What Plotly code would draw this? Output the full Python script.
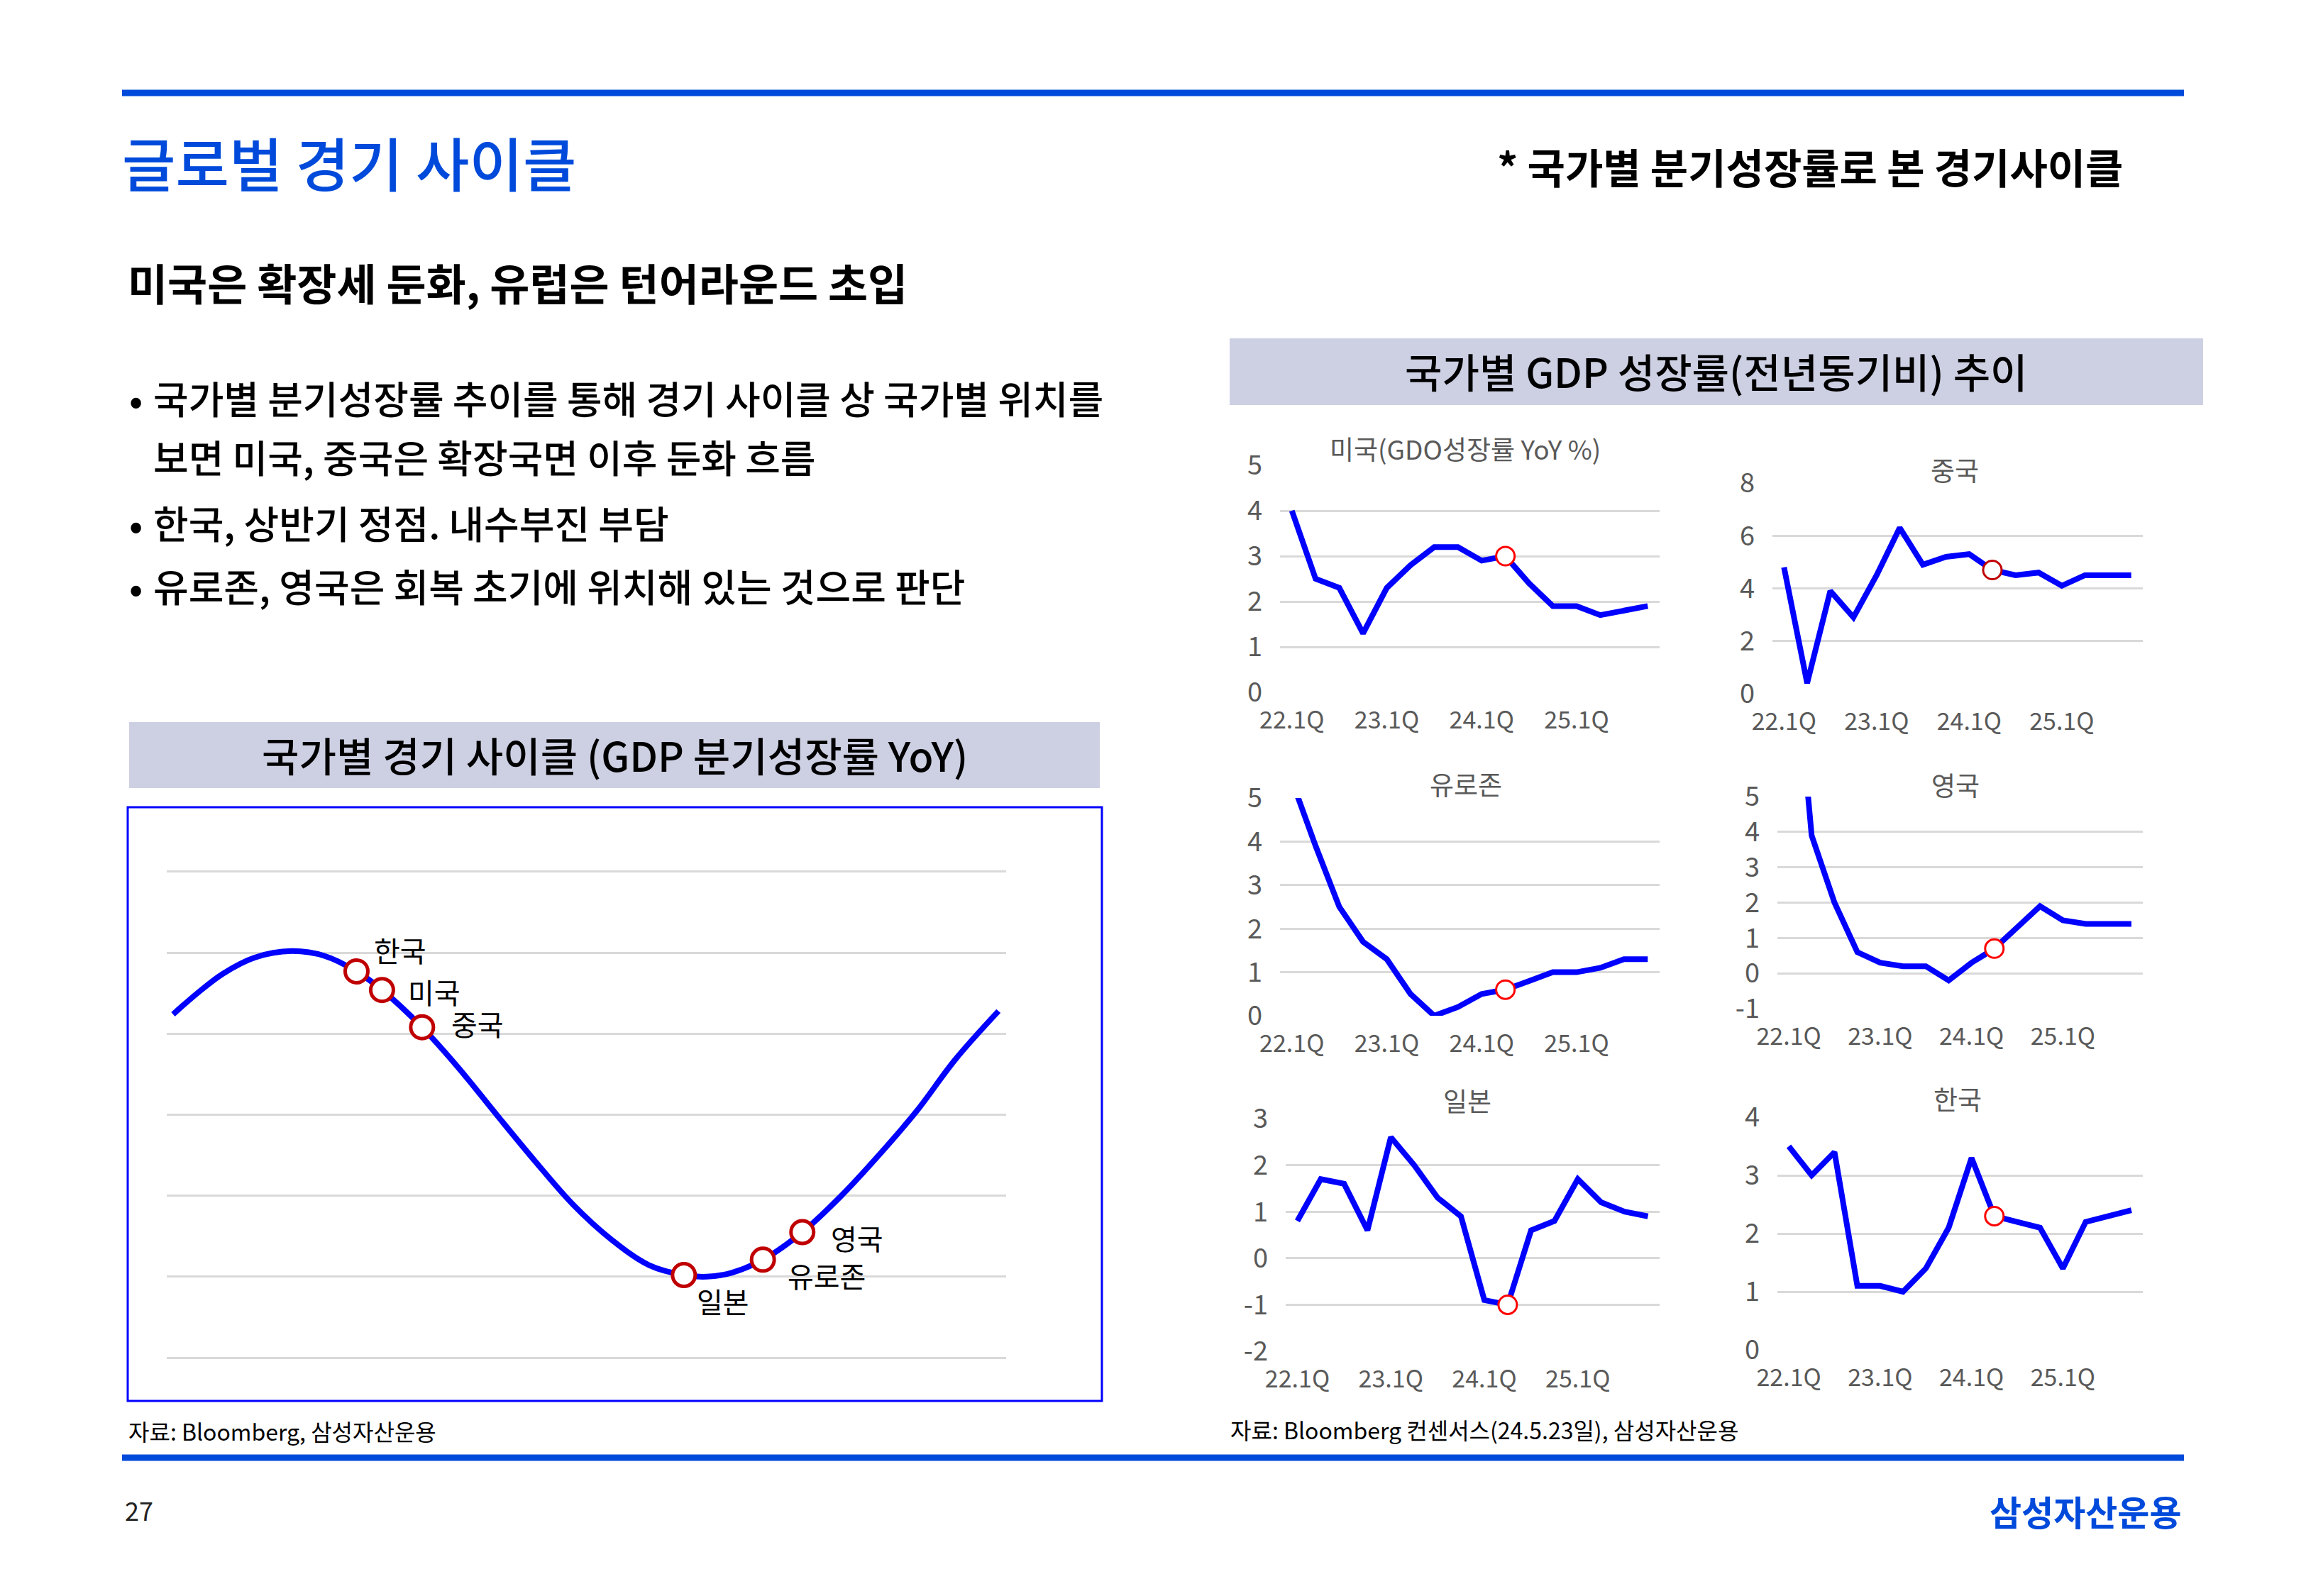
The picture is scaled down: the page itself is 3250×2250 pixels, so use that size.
import plotly.graph_objects as go

W, H = 3250, 2250
FONT = "Noto Sans CJK KR"
BLUE = "#004ADB"

# ---------------- data ----------------
quarters = ["22.1Q", "22.2Q", "22.3Q", "22.4Q", "23.1Q", "23.2Q", "23.3Q", "23.4Q",
            "24.1Q", "24.2Q", "24.3Q", "24.4Q", "25.1Q", "25.2Q", "25.3Q", "25.4Q"]
tick_quarters = ["22.1Q", "23.1Q", "24.1Q", "25.1Q"]
highlight_quarter = "24.2Q"

us_gdp = [4.0, 2.5, 2.3, 1.3, 2.3, 2.8, 3.2, 3.2, 2.9, 3.0, 2.4, 1.9, 1.9, 1.7, 1.8, 1.9]
china_gdp = [4.8, 0.4, 3.9, 2.9, 4.5, 6.3, 4.9, 5.2, 5.3, 4.7, 4.5, 4.6, 4.1, 4.5, 4.5, 4.5]
eurozone_gdp = [5.4, 3.9, 2.5, 1.7, 1.3, 0.5, 0.0, 0.2, 0.5, 0.6, 0.8, 1.0, 1.0, 1.1, 1.3, 1.3]
uk_gdp = [11.0, 3.9, 2.0, 0.6, 0.3, 0.2, 0.2, -0.2, 0.3, 0.7, 1.3, 1.9, 1.5, 1.4, 1.4, 1.4]
japan_gdp = [0.8, 1.7, 1.6, 0.6, 2.6, 2.0, 1.3, 0.9, -0.9, -1.0, 0.6, 0.8, 1.7, 1.2, 1.0, 0.9]
korea_gdp = [3.5, 3.0, 3.4, 1.1, 1.1, 1.0, 1.4, 2.1, 3.3, 2.3, 2.2, 2.1, 1.4, 2.2, 2.3, 2.4]

# y tick values / labels of the small charts
us_ticks = [0, 1, 2, 3, 4, 5]
china_ticks = [0, 2, 4, 6, 8]
eurozone_ticks = [0, 1, 2, 3, 4, 5]
uk_ticks = [-1, 0, 1, 2, 3, 4, 5]
japan_ticks = [-2, -1, 0, 1, 2, 3]
korea_ticks = [0, 1, 2, 3, 4]

# conceptual business-cycle curve
cycle_x = [0.76, 3.64, 6.68, 10.47, 14.87, 18.82, 22.61, 25.65, 30.42, 34.75, 39.30, 43.85,
           48.41, 52.96, 57.51, 61.61, 64.34, 67.37, 71.02, 75.72, 80.27, 84.83, 89.38,
           93.93, 99.09]
cycle_y = [4.24, 4.50, 4.74, 4.94, 5.02, 4.96, 4.77, 4.54, 4.08, 3.58, 3.00, 2.43,
           1.89, 1.46, 1.14, 1.02, 1.00, 1.05, 1.21, 1.55, 1.99, 2.50, 3.05,
           3.68, 4.28]
cycle_grid = [0, 1, 2, 3, 4, 5, 6]
cycle_countries = ["한국", "미국", "중국", "일본", "유로존", "영국"]
cycle_country_x = [22.61, 25.65, 30.42, 61.61, 71.02, 75.72]
cycle_country_y = [4.77, 4.54, 4.08, 1.02, 1.21, 1.55]

# ---------------- helpers ----------------
def fx(px):
    return px / W


def fy(py):
    return 1 - py / H


fig = go.Figure()
annotations = []
shapes = []

# ---------------- big cycle chart ----------------
fig.add_trace(go.Scatter(x=cycle_x, y=cycle_y, mode="lines",
                         line=dict(color="#0000FF", width=8, shape="spline", smoothing=1.0),
                         xaxis="x", yaxis="y", hoverinfo="skip", showlegend=False))
fig.add_trace(go.Scatter(x=cycle_country_x, y=cycle_country_y, mode="markers",
                         marker=dict(size=32, color="white", line=dict(color="#C00000", width=5)),
                         xaxis="x", yaxis="y", hoverinfo="skip", showlegend=False))

label_offsets = {"한국": (62, 30), "미국": (74, -2), "중국": (78, 5),
                 "일본": (55, -36), "유로존": (90, -22), "영국": (77, -8)}
for name, cx, cy in zip(cycle_countries, cycle_country_x, cycle_country_y):
    dx, dy = label_offsets[name]
    annotations.append(dict(x=cx, y=cy, xref="x", yref="y", text=name, showarrow=False,
                            xshift=dx, yshift=dy, xanchor="center", yanchor="middle",
                            font=dict(family=FONT, size=40, color="#000000")))

big_top, big_bot = 1229 - 57.1, 1914 + 57.1
layout_axes = dict(
    xaxis=dict(domain=[fx(235), fx(1418)], range=[0, 100], visible=False, anchor="y",
               automargin=False),
    yaxis=dict(domain=[fy(big_bot), fy(big_top)], range=[-0.5, 6.5],
               tickmode="array", tickvals=cycle_grid,
               showgrid=True, gridcolor="#D9D9D9", gridwidth=3, zeroline=False,
               showticklabels=False, ticks="", showline=False, anchor="x", automargin=False),
)

# ---------------- small charts ----------------
panels = [
    # title, data, yrange, ticks, (x0, x1, ytop, ybottom), title pos, marker colour
    ("미국(GDO성장률 YoY %)", us_gdp, [0, 5], us_ticks, (1804, 2339, 656, 976), (2065, 632), "#FF0000"),
    ("중국", china_gdp, [0, 8], china_ticks, (2498, 3020, 681, 978), (2755, 662), "#C00000"),
    ("유로존", eurozone_gdp, [0, 5], eurozone_ticks, (1804, 2339, 1125, 1432), (2066, 1105), "#FF0000"),
    ("영국", uk_gdp, [-1, 5], uk_ticks, (2505, 3020, 1123, 1422), (2756, 1106), "#FF0000"),
    ("일본", japan_gdp, [-2, 3], japan_ticks, (1812, 2339, 1577, 1905), (2068, 1551), "#FF0000"),
    ("한국", korea_gdp, [0, 4], korea_ticks, (2505, 3020, 1575, 1903), (2759, 1549), "#FF0000"),
]

hi = quarters.index(highlight_quarter)
for i, (title, vals, yr, yt_vals, (x0, x1, yt, yb), (tx, ty), mcol) in enumerate(panels):
    n = i + 2
    xa, ya = f"x{n}", f"y{n}"
    fig.add_trace(go.Scatter(x=quarters, y=vals, mode="lines",
                             line=dict(color="#0000FF", width=8),
                             xaxis=xa, yaxis=ya, hoverinfo="skip", showlegend=False))
    fig.add_trace(go.Scatter(x=[quarters[hi]], y=[vals[hi]], mode="markers",
                             marker=dict(size=26, color="white", line=dict(color=mcol, width=3)),
                             xaxis=xa, yaxis=ya, hoverinfo="skip", showlegend=False))
    layout_axes[f"xaxis{n}"] = dict(domain=[fx(x0), fx(x1)], type="category",
                                    categoryorder="array", categoryarray=quarters,
                                    range=[-0.5, len(quarters) - 0.5],
                                    tickmode="array", tickvals=tick_quarters, ticktext=tick_quarters,
                                    showgrid=False, zeroline=False, showline=False, ticks="",
                                    tickfont=dict(family=FONT, size=34, color="#595959"),
                                    ticklabelstandoff=16, anchor=ya, automargin=False)
    layout_axes[f"yaxis{n}"] = dict(domain=[fy(yb), fy(yt)], range=yr,
                                    tickmode="array", tickvals=yt_vals,
                                    ticktext=[str(v) for v in yt_vals],
                                    showgrid=True, gridcolor="#D9D9D9", gridwidth=3,
                                    zeroline=False, showline=False, ticks="",
                                    tickfont=dict(family=FONT, size=38, color="#595959"),
                                    ticklabelstandoff=24, anchor=xa, automargin=False)
    annotations.append(dict(x=fx(tx), y=fy(ty), xref="paper", yref="paper", text=title,
                            showarrow=False, xanchor="center", yanchor="middle",
                            font=dict(family=FONT, size=37, color="#595959")))

# ---------------- slide decorations ----------------
shapes += [
    dict(type="line", xref="paper", yref="paper", x0=fx(172), x1=fx(3078), y0=fy(131), y1=fy(131),
         line=dict(color=BLUE, width=9)),
    dict(type="line", xref="paper", yref="paper", x0=fx(172), x1=fx(3078), y0=fy(2055), y1=fy(2055),
         line=dict(color=BLUE, width=9)),
    dict(type="rect", xref="paper", yref="paper", x0=fx(182), x1=fx(1550), y0=fy(1111), y1=fy(1018),
         fillcolor="#CDD0E3", line=dict(width=0), layer="below"),
    dict(type="rect", xref="paper", yref="paper", x0=fx(1733), x1=fx(3105), y0=fy(571), y1=fy(477),
         fillcolor="#CDD0E3", line=dict(width=0), layer="below"),
    dict(type="rect", xref="paper", yref="paper", x0=fx(180), x1=fx(1553), y0=fy(1975), y1=fy(1138),
         fillcolor="rgba(0,0,0,0)", line=dict(color="#0000FF", width=3)),
]


def text(px, py, s, size, color="#000000", weight=400, anchor="left"):
    annotations.append(dict(x=fx(px), y=fy(py), xref="paper", yref="paper", text=s,
                            showarrow=False, xanchor=anchor, yanchor="middle",
                            font=dict(family=FONT, size=size, color=color, weight=weight)))


text(170, 228, "글로벌 경기 사이클", 82, BLUE, 500)
text(2108, 234, "* 국가별 분기성장률로 본 경기사이클", 58, "#000000", 700)
text(178, 398, "미국은 확장세 둔화, 유럽은 턴어라운드 초입", 61, "#000000", 700)

bullet_lines = [
    (560, True, "국가별 분기성장률 추이를 통해 경기 사이클 상 국가별 위치를"),
    (643, False, "보면 미국, 중국은 확장국면 이후 둔화 흐름"),
    (736, True, "한국, 상반기 정점. 내수부진 부담"),
    (825, True, "유로존, 영국은 회복 초기에 위치해 있는 것으로 판단"),
]
for py, bullet, s in bullet_lines:
    if bullet:
        text(180, py, "•", 54, "#000000", 500)
    text(214, py, s, 54, "#000000", 500)

text(866, 1063, "국가별 경기 사이클 (GDP 분기성장률 YoY)", 57, "#000000", 500, "center")
text(2419, 522, "국가별 GDP 성장률(전년동기비) 추이", 57, "#000000", 500, "center")

text(179, 2017, "자료: Bloomberg, 삼성자산운용", 32)
text(1732, 2015, "자료: Bloomberg 컨센서스(24.5.23일), 삼성자산운용", 32)
text(174, 2128, "27", 36, "#222222")
text(3076, 2129, "삼성자산운용", 49, BLUE, 700, "right")

fig.update_layout(
    template="none",
    width=W, height=H, autosize=False,
    margin=dict(l=0, r=0, t=0, b=0, pad=0),
    paper_bgcolor="white", plot_bgcolor="rgba(0,0,0,0)",
    showlegend=False,
    annotations=annotations, shapes=shapes,
    font=dict(family=FONT, color="#000000"),
    **layout_axes,
)

fig.write_html("out.html", include_plotlyjs=True, full_html=True,
               config={"displayModeBar": False},
               post_script="document.body.style.margin='0';")
